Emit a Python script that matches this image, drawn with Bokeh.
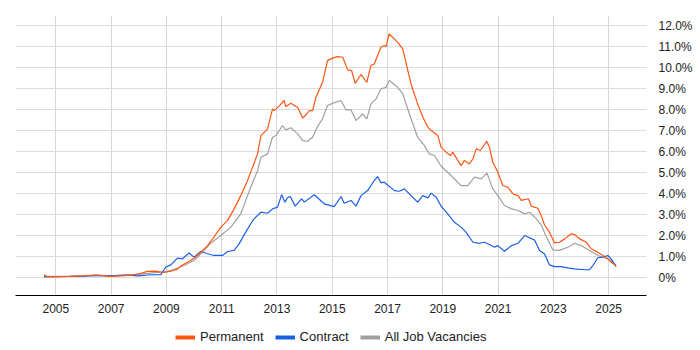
from bokeh.plotting import figure
from bokeh.layouts import column
from bokeh.models import (Range1d, FixedTicker, CustomJSTickFormatter, LinearAxis,
                          Legend, LegendItem, Grid)
from bokeh.embed import file_html
from bokeh.resources import INLINE

# ---- data (decimal years, % share) ----
perm_x = [2004.57, 2004.69, 2005.0, 2005.5, 2006.0, 2006.4, 2006.8, 2007.0, 2007.5, 2007.8,
          2008.07, 2008.31, 2008.6, 2008.91, 2009.16, 2009.4, 2009.52, 2009.88, 2010.12, 2010.49,
          2010.72, 2010.97, 2011.21, 2011.45, 2011.69, 2011.93, 2012.1, 2012.3, 2012.42, 2012.66,
          2012.84, 2012.9, 2013.1, 2013.26, 2013.32, 2013.5, 2013.75, 2013.93, 2014.05, 2014.17,
          2014.29, 2014.41, 2014.65, 2014.83, 2015.0, 2015.2, 2015.38, 2015.56, 2015.7, 2015.83,
          2016.04, 2016.25, 2016.4, 2016.52, 2016.76, 2016.88, 2016.95, 2017.06, 2017.37, 2017.55,
          2017.85, 2018.09, 2018.28, 2018.46, 2018.58, 2018.82, 2018.94, 2019.12, 2019.28, 2019.36,
          2019.66, 2019.78, 2019.96, 2020.09, 2020.21, 2020.36, 2020.59, 2020.69, 2020.81, 2020.99,
          2021.17, 2021.35, 2021.54, 2021.72, 2021.84, 2022.1, 2022.2, 2022.44, 2022.56, 2022.68,
          2022.86, 2023.04, 2023.22, 2023.41, 2023.65, 2023.77, 2023.95, 2024.19, 2024.37, 2024.61,
          2024.79, 2024.97, 2025.09, 2025.27]
perm_y = [0.13, 0.04, 0.04, 0.05, 0.08, 0.12, 0.08, 0.05, 0.09, 0.13,
          0.2, 0.29, 0.3, 0.24, 0.3, 0.4, 0.55, 0.81, 1.05, 1.52,
          1.92, 2.4, 2.71, 3.27, 3.9, 4.6, 5.2, 5.9, 6.76, 7.08,
          8.03, 7.95, 8.2, 8.43, 8.14, 8.3, 8.1, 7.6, 7.75, 7.95,
          7.95, 8.59, 9.3, 10.33, 10.45, 10.52, 10.49, 9.89, 9.86, 9.25,
          9.67, 9.29, 10.1, 10.17, 10.97, 11.05, 11.0, 11.6, 11.2, 10.89,
          9.22, 8.27, 7.63, 7.16, 7.0, 6.76, 6.2, 5.97, 5.81, 5.97,
          5.33, 5.57, 5.41, 5.65, 6.13, 6.05, 6.49, 6.2, 5.49, 5.01,
          4.38, 4.3, 3.98, 3.9, 3.67, 3.75, 3.4, 3.3, 2.95, 2.5,
          2.16, 1.65, 1.68, 1.84, 2.08, 2.05, 1.84, 1.68, 1.37, 1.2,
          1.05, 0.89, 0.73, 0.57]

cont_x = [2004.57, 2005.0, 2005.5, 2006.0, 2006.5, 2007.0, 2007.5, 2008.0, 2008.3, 2008.8,
          2008.97, 2009.16, 2009.4, 2009.58, 2009.82, 2010.0, 2010.24, 2010.49, 2010.72, 2011.03,
          2011.21, 2011.45, 2011.63, 2011.87, 2012.05, 2012.17, 2012.42, 2012.66, 2012.84, 2013.02,
          2013.17, 2013.29, 2013.38, 2013.48, 2013.66, 2013.89, 2013.99, 2014.35, 2014.71, 2015.07,
          2015.32, 2015.43, 2015.68, 2015.86, 2016.04, 2016.28, 2016.52, 2016.64, 2016.76, 2016.88,
          2017.25, 2017.43, 2017.61, 2017.79, 2018.09, 2018.28, 2018.46, 2018.58, 2018.76, 2018.94,
          2019.18, 2019.42, 2019.66, 2019.84, 2020.09, 2020.33, 2020.51, 2020.69, 2020.87, 2020.99,
          2021.23, 2021.48, 2021.72, 2021.96, 2022.14, 2022.32, 2022.5, 2022.68, 2022.86, 2023.04,
          2023.28, 2023.52, 2023.77, 2024.13, 2024.31, 2024.43, 2024.61, 2024.79, 2024.97, 2025.09,
          2025.27]
cont_y = [0.03, 0.04, 0.05, 0.07, 0.1, 0.08, 0.12, 0.08, 0.12, 0.14,
          0.49, 0.6, 0.92, 0.89, 1.17, 0.97, 1.24, 1.13, 1.05, 1.05,
          1.24, 1.29, 1.6, 2.16, 2.56, 2.79, 3.11, 3.06, 3.27, 3.35,
          3.94, 3.59, 3.8, 3.86, 3.4, 3.75, 3.59, 3.94, 3.51, 3.38,
          3.86, 3.54, 3.67, 3.4, 3.9, 4.14, 4.62, 4.81, 4.51, 4.54,
          4.14, 4.11, 4.22, 3.98, 3.59, 3.9, 3.79, 4.02, 3.82, 3.4,
          3.03, 2.63, 2.4, 2.16, 1.68, 1.63, 1.68, 1.57, 1.44, 1.52,
          1.25, 1.52, 1.63, 2.0, 1.89, 1.79, 1.29, 1.12, 0.6, 0.52,
          0.52, 0.46, 0.41, 0.37, 0.37, 0.57, 0.94, 0.97, 1.05, 0.89,
          0.52]

all_x = [2004.57, 2005.0, 2005.5, 2006.0, 2006.5, 2007.0, 2007.5, 2008.0, 2008.5, 2008.9,
         2009.16, 2009.64, 2010.0, 2010.24, 2010.6, 2010.97, 2011.33, 2011.69, 2012.05, 2012.3,
         2012.42, 2012.66, 2012.84, 2012.96, 2013.2, 2013.32, 2013.5, 2013.75, 2013.93, 2014.11,
         2014.29, 2014.47, 2014.65, 2014.83, 2015.07, 2015.32, 2015.5, 2015.68, 2015.86, 2016.1,
         2016.25, 2016.4, 2016.59, 2016.76, 2016.95, 2017.06, 2017.37, 2017.55, 2017.85, 2018.09,
         2018.33, 2018.51, 2018.7, 2018.94, 2019.3, 2019.66, 2019.9, 2020.15, 2020.39, 2020.6,
         2020.81, 2020.99, 2021.23, 2021.48, 2021.72, 2021.96, 2022.14, 2022.39, 2022.56, 2022.74,
         2022.98, 2023.22, 2023.52, 2023.77, 2024.0, 2024.31, 2024.61, 2024.86, 2025.09, 2025.27]
all_y = [0.05, 0.05, 0.06, 0.08, 0.1, 0.08, 0.12, 0.15, 0.22, 0.27,
         0.33, 0.57, 0.81, 1.13, 1.63, 2.0, 2.4, 3.03, 4.3, 5.1,
         5.73, 5.89, 6.68, 6.76, 7.24, 7.03, 7.13, 6.84, 6.52, 6.49,
         6.68, 7.19, 7.56, 8.19, 8.33, 8.42, 7.98, 7.98, 7.48, 7.79,
         7.56, 8.27, 8.51, 8.99, 9.06, 9.38, 9.06, 8.75, 7.56, 6.68,
         6.29, 5.89, 5.81, 5.3, 4.86, 4.38, 4.38, 4.78, 4.7, 4.97,
         4.22, 3.9, 3.43, 3.27, 3.19, 3.03, 3.11, 2.79, 2.5, 1.95,
         1.32, 1.29, 1.44, 1.63, 1.52, 1.29, 1.05, 0.94, 0.81, 0.57]

year_ticks = [2005, 2007, 2009, 2011, 2013, 2015, 2017, 2019, 2021, 2023, 2025]
pct_ticks = [0, 1, 2, 3, 4, 5, 6, 7, 8, 9, 10, 11, 12]

series_names = ["Permanent", "Contract", "All Job Vacancies"]
series_colors = ["#ff5511", "#1a5ee6", "#a0a0a0"]

FONT = "Liberation Sans"

p = figure(width=700, height=325, output_backend="svg", toolbar_location=None,
           x_range=Range1d(2003.54, 2026.37), y_range=Range1d(-0.857, 12.48),
           y_axis_location=None, min_border_left=15, min_border_top=15,
           min_border_right=54, min_border_bottom=30)
p.outline_line_color = None
p.background_fill_color = "white"

# x axis
p.xaxis.ticker = FixedTicker(ticks=year_ticks)
p.xaxis.major_tick_line_color = None
p.xaxis.minor_tick_line_color = None
p.xaxis.axis_line_color = "#000000"
p.xaxis.axis_line_width = 1
p.xaxis.major_label_text_font = FONT
p.xaxis.major_label_text_font_size = "12px"
p.xaxis.major_label_text_color = "#222222"
p.xaxis.major_label_standoff = 2

# y axis on the right
yax = LinearAxis(ticker=FixedTicker(ticks=pct_ticks),
                 formatter=CustomJSTickFormatter(code="return tick == 0 ? '0%' : tick.toFixed(1) + '%';"))
yax.axis_line_color = None
yax.major_tick_line_color = None
yax.minor_tick_line_color = None
yax.major_label_text_font = FONT
yax.major_label_text_font_size = "12px"
yax.major_label_text_color = "#222222"
yax.major_label_standoff = 6
p.add_layout(yax, "right")

p.xgrid.ticker = FixedTicker(ticks=year_ticks)
p.xgrid.grid_line_color = "#d6d6d6"
yg = Grid(dimension=1, ticker=FixedTicker(ticks=pct_ticks), grid_line_color="#dcdcdc")
p.add_layout(yg, "center")

# lines
p.line(all_x, all_y, line_color=series_colors[2], line_width=1.2)
p.line(cont_x, cont_y, line_color=series_colors[1], line_width=1.2)
p.line(perm_x, perm_y, line_color=series_colors[0], line_width=1.2)

# legend strip (separate figure holding only the legend)
lg = figure(width=700, height=22, output_backend="svg", toolbar_location=None,
            x_range=Range1d(0, 1), y_range=Range1d(0, 1),
            x_axis_location=None, y_axis_location=None,
            min_border_left=0, min_border_right=0, min_border_top=0, min_border_bottom=0)
lg.outline_line_color = None
lg.grid.visible = False
items = []
for name, col in zip(series_names, series_colors):
    r = lg.line([5, 5], [5, 5], line_color=col, line_width=4)
    items.append(LegendItem(label=name, renderers=[r]))
legend = Legend(items=items, orientation="horizontal", location=(160, 3),
                label_text_font=FONT, label_text_font_size="13px",
                label_text_color="#222222", glyph_width=20, glyph_height=14,
                label_standoff=5, spacing=11, border_line_color=None,
                background_fill_alpha=0, padding=3, margin=0)
lg.add_layout(legend, "center")

layout = column(p, lg, spacing=0)
open("out.html", "w").write(file_html(layout, INLINE))
